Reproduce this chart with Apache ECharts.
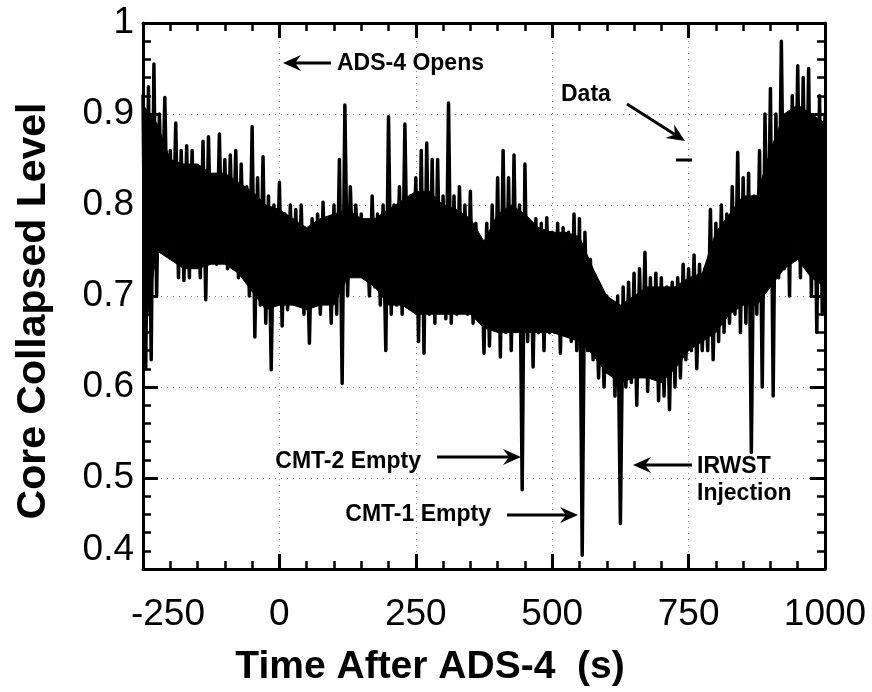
<!DOCTYPE html>
<html>
<head>
<meta charset="utf-8">
<script src="https://cdn.jsdelivr.net/npm/echarts@6/dist/echarts.min.js"></script>
<style>
  html, body { margin: 0; padding: 0; background: #fff; }
  #main { width: 872px; height: 692px; }
</style>
</head>
<body>
<div id="main"></div>
<script>
var sampleStart = -250;
var sampleStep = 5;
var level = [
  0.92, 0.62, 0.93, 0.63, 0.955, 0.70, 0.90, 0.787, 0.918, 0.76,
  0.86, 0.75, 0.89, 0.72, 0.86, 0.717, 0.865, 0.72, 0.86, 0.74,
  0.84, 0.72, 0.87, 0.696, 0.875, 0.74, 0.83, 0.735, 0.878, 0.74,
  0.85, 0.73, 0.855, 0.74, 0.86, 0.72, 0.845, 0.725, 0.82, 0.70,
  0.886, 0.655, 0.83, 0.69, 0.853, 0.67, 0.81, 0.619, 0.80, 0.70,
  0.825, 0.667, 0.79, 0.685, 0.80, 0.70, 0.795, 0.69, 0.80, 0.68,
  0.77, 0.648, 0.785, 0.69, 0.79, 0.68, 0.803, 0.70, 0.77, 0.67,
  0.80, 0.68, 0.85, 0.604, 0.91, 0.70, 0.82, 0.73, 0.80, 0.74,
  0.79, 0.72, 0.78, 0.70, 0.81, 0.71, 0.79, 0.69, 0.80, 0.64,
  0.897, 0.68, 0.80, 0.69, 0.82, 0.68, 0.889, 0.70, 0.81, 0.69,
  0.83, 0.65, 0.86, 0.637, 0.868, 0.68, 0.85, 0.67, 0.85, 0.69,
  0.81, 0.675, 0.912, 0.67, 0.81, 0.68, 0.82, 0.69, 0.80, 0.68,
  0.815, 0.67, 0.78, 0.69, 0.755, 0.637, 0.78, 0.645, 0.80, 0.665,
  0.83, 0.633, 0.86, 0.66, 0.83, 0.64, 0.855, 0.665, 0.80, 0.487,
  0.845, 0.65, 0.78, 0.622, 0.785, 0.66, 0.78, 0.64, 0.786, 0.66,
  0.77, 0.66, 0.78, 0.637, 0.775, 0.66, 0.77, 0.65, 0.79, 0.64,
  0.785, 0.415, 0.77, 0.64, 0.74, 0.63, 0.72, 0.61, 0.705, 0.60,
  0.70, 0.62, 0.69, 0.59, 0.70, 0.45, 0.71, 0.60, 0.715, 0.605,
  0.725, 0.58, 0.73, 0.62, 0.748, 0.595, 0.72, 0.61, 0.725, 0.585,
  0.72, 0.59, 0.71, 0.575, 0.715, 0.60, 0.72, 0.61, 0.735, 0.63,
  0.73, 0.64, 0.745, 0.62, 0.735, 0.64, 0.73, 0.64, 0.795, 0.63,
  0.78, 0.65, 0.80, 0.66, 0.79, 0.67, 0.82, 0.68, 0.858, 0.66,
  0.83, 0.67, 0.835, 0.528, 0.81, 0.68, 0.86, 0.60, 0.90, 0.71,
  0.928, 0.59, 0.90, 0.72, 0.98, 0.73, 0.89, 0.70, 0.92, 0.74,
  0.953, 0.72, 0.94, 0.75, 0.95, 0.70, 0.89, 0.66, 0.92, 0.68,
  0.90
];
// solid (densely oscillating) core of the trace, every 25 s
var coreStart = -250;
var coreStep = 25;
var coreTop = [
  0.91, 0.89, 0.85, 0.845, 0.845, 0.835, 0.835, 0.825, 0.815, 0.80,
  0.795, 0.785, 0.775, 0.785, 0.79, 0.795, 0.785, 0.785, 0.795, 0.805,
  0.815, 0.815, 0.80, 0.795, 0.785, 0.76, 0.79, 0.80, 0.79, 0.775,
  0.77, 0.77, 0.765, 0.73, 0.70, 0.69, 0.70, 0.71, 0.71, 0.71,
  0.72, 0.725, 0.77, 0.79, 0.81, 0.81, 0.86, 0.90, 0.91, 0.90,
  0.89
];
var coreBottom = [
  0.64, 0.75, 0.74, 0.73, 0.73, 0.735, 0.735, 0.725, 0.705, 0.685,
  0.69, 0.69, 0.685, 0.69, 0.69, 0.72, 0.72, 0.71, 0.69, 0.69,
  0.68, 0.68, 0.68, 0.68, 0.68, 0.665, 0.66, 0.66, 0.66, 0.66,
  0.66, 0.655, 0.65, 0.635, 0.615, 0.605, 0.61, 0.61, 0.605, 0.62,
  0.64, 0.65, 0.66, 0.68, 0.69, 0.69, 0.71, 0.73, 0.74, 0.72,
  0.71
];
var xTicks = { min: -250, max: 1000, step: 250 };
var yTicks = { min: 0.4, max: 1, step: 0.1 };

var FONT = 'Liberation Sans, Arial, sans-serif';

var seriesData = [];
for (var i = 0; i < level.length; i++) {
  seriesData.push([sampleStart + i * sampleStep, level[i]]);
}
// one quad per core interval: [t0, bottom0, top0, t1, bottom1, top1]
var coreQuads = [];
for (var j = 0; j < coreTop.length - 1; j++) {
  coreQuads.push([coreStart + j * coreStep, coreBottom[j], coreTop[j],
    coreStart + (j + 1) * coreStep, coreBottom[j + 1], coreTop[j + 1]]);
}

function axisBase(showLabel, showGrid) {
  return {
    axisLine: { show: true, onZero: false, lineStyle: { color: '#000', width: 3 } },
    axisTick: { show: true, inside: true, length: 15, lineStyle: { color: '#000', width: 3 } },
    minorTick: { show: true, splitNumber: 5, length: 8, lineStyle: { color: '#000', width: 2.5 } },
    splitLine: { show: showGrid, lineStyle: { color: '#8a8a8a', width: 1, type: [1, 5] } },
    axisLabel: { show: showLabel, color: '#000', fontSize: 37, fontFamily: FONT }
  };
}

// arrow: shaft from (x1,y1) to tip (x2,y2)
function arrow(x1, y1, x2, y2) {
  var a = Math.atan2(y2 - y1, x2 - x1);
  var L = 18, W = 8, back = 12;
  function pt(d, s) {
    return [x2 - d * Math.cos(a) - s * Math.sin(a), y2 - d * Math.sin(a) + s * Math.cos(a)];
  }
  return [
    { type: 'line', shape: { x1: x1, y1: y1, x2: pt(back, 0)[0], y2: pt(back, 0)[1] },
      style: { stroke: '#000', lineWidth: 3 }, z: 10 },
    { type: 'polygon', shape: { points: [[x2, y2], pt(L, W), pt(back, 0), pt(L, -W)] },
      style: { fill: '#000' }, z: 10 }
  ];
}

function label(text, x, y, align, size) {
  return { type: 'text', x: x, y: y, z: 10,
    style: { text: text, font: 'bold ' + (size || 23) + 'px ' + FONT, fill: '#000',
      align: align || 'left', verticalAlign: 'middle' } };
}

var graphics = [].concat(
  arrow(331, 63, 283, 63), [label('ADS-4 Opens', 337, 64)],
  [label('Data', 561, 95)], arrow(627, 104, 685, 141),
  [{ type: 'line', shape: { x1: 676, y1: 160, x2: 692, y2: 160 }, style: { stroke: '#000', lineWidth: 3 }, z: 10 }],
  [label('CMT-2 Empty', 421, 462, 'right')], arrow(437, 457, 521, 457),
  [label('CMT-1 Empty', 491, 515, 'right')], arrow(507, 515, 578, 515),
  arrow(692, 465, 633, 465), [label('IRWST', 697, 467), label('Injection', 697, 494)],
  [label('Time After ADS-4  (s)', 430, 667, 'center', 39)],
  [{ type: 'text', x: 34, y: 311, rotation: Math.PI / 2, z: 10,
     style: { text: 'Core Collapsed Level', font: 'bold 41px ' + FONT, fill: '#000',
       align: 'center', verticalAlign: 'middle' } }]
);

var chart = echarts.init(document.getElementById('main'));
var xMain = axisBase(true, true);
xMain.axisLabel.margin = 27;
xMain.axisLabel.formatter = function (v) {
  return v === xTicks.min ? '{first|' + v + '}' : String(v);
};
xMain.axisLabel.rich = { first: { fontSize: 37, fontFamily: FONT, color: '#000', padding: [0, 0, 0, 50] } };
var yMain = axisBase(true, true);
yMain.axisLabel.margin = 9;
yMain.axisLabel.formatter = function (v) {
  var s = String(Math.round(v * 10) / 10);
  return Math.abs(v - yTicks.min) < 1e-9 ? '{last|' + s + '}' : s;
};
yMain.axisLabel.rich = { last: { fontSize: 37, fontFamily: FONT, color: '#000', padding: [0, 0, 38, 0] } };

chart.setOption({
  animation: false,
  backgroundColor: '#fff',
  grid: { left: 143, right: 47, top: 23, bottom: 123 },
  xAxis: [
    Object.assign(xMain, {
      type: 'value', position: 'bottom', min: xTicks.min, max: xTicks.max, interval: xTicks.step
    }),
    Object.assign(axisBase(false, false), {
      type: 'value', position: 'top', min: xTicks.min, max: xTicks.max, interval: xTicks.step
    })
  ],
  yAxis: [
    Object.assign(yMain, {
      type: 'value', position: 'left', min: yTicks.min, max: yTicks.max, interval: yTicks.step
    }),
    Object.assign(axisBase(false, false), {
      type: 'value', position: 'right', min: yTicks.min, max: yTicks.max, interval: yTicks.step
    })
  ],
  series: [{
    type: 'custom',
    data: coreQuads,
    encode: { x: [0, 3], y: [1, 2, 4, 5] },
    silent: true,
    z: 2,
    renderItem: function (params, api) {
      var bl = api.coord([api.value(0), api.value(1)]);
      var tl = api.coord([api.value(0), api.value(2)]);
      var tr = api.coord([api.value(3), api.value(5)]);
      var br = api.coord([api.value(3), api.value(4)]);
      return {
        type: 'polygon',
        shape: { points: [bl, tl, tr, br] },
        style: { fill: '#000', stroke: '#000', lineWidth: 1 }
      };
    }
  }, {
    name: 'Data',
    type: 'line',
    data: seriesData,
    showSymbol: false,
    lineStyle: { color: '#000', width: 3.5, join: 'round', cap: 'round' },
    z: 3
  }],
  graphic: graphics
});
</script>
</body>
</html>
